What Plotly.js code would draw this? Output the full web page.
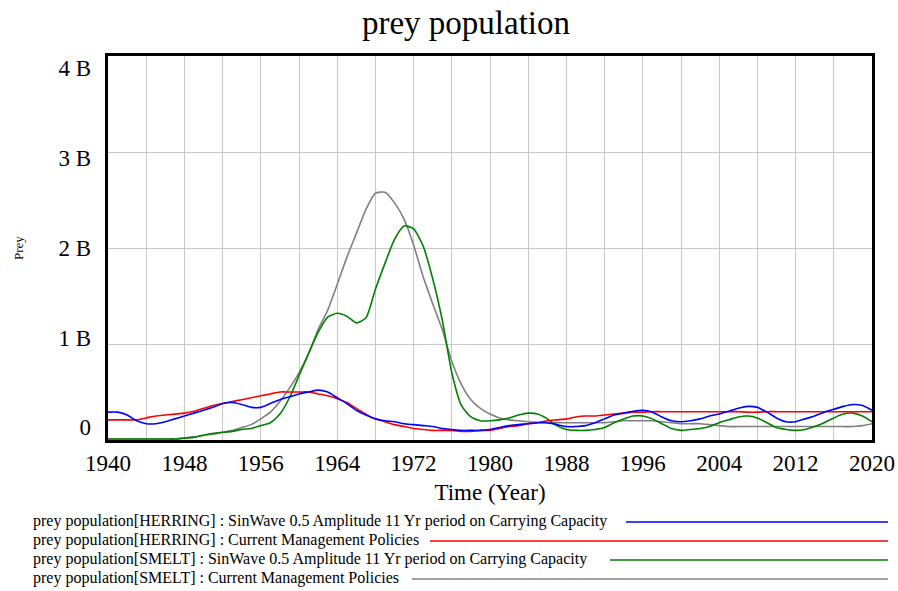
<!DOCTYPE html>
<html>
<head>
<meta charset="utf-8">
<script src="https://cdn.plot.ly/plotly-3.0.1.min.js"></script>
<style>html,body{margin:0;padding:0;background:#fff;}#chart{width:898px;height:591px;}</style>
</head>
<body>
<div id="chart"></div>
<script>
// ---- data (values in billions) ----
const years = [];
for (let y = 1940; y <= 2020; y++) years.push(y);

const herringSin = [0.29,0.29,0.26,0.20,0.17,0.17,0.19,0.22,0.25,0.28,0.31,0.34,0.38,0.39,0.37,0.34,0.34,0.38,0.42,0.45,0.48,0.50,0.52,0.50,0.44,0.38,0.31,0.26,0.22,0.20,0.19,0.17,0.16,0.15,0.14,0.12,0.11,0.10,0.10,0.10,0.11,0.13,0.15,0.16,0.17,0.18,0.18,0.16,0.14,0.14,0.15,0.18,0.22,0.26,0.28,0.30,0.31,0.29,0.24,0.20,0.19,0.20,0.22,0.25,0.27,0.30,0.33,0.35,0.34,0.29,0.23,0.19,0.19,0.22,0.25,0.29,0.32,0.35,0.37,0.36,0.31];
const herringCur = [0.21,0.21,0.21,0.21,0.23,0.25,0.26,0.27,0.28,0.30,0.33,0.36,0.38,0.40,0.42,0.44,0.46,0.48,0.50,0.50,0.50,0.50,0.48,0.46,0.43,0.39,0.33,0.27,0.22,0.19,0.16,0.14,0.12,0.11,0.10,0.10,0.10,0.09,0.09,0.10,0.10,0.12,0.14,0.15,0.17,0.18,0.20,0.21,0.22,0.24,0.25,0.25,0.26,0.27,0.28,0.29,0.29,0.295,0.295,0.295,0.295,0.295,0.295,0.295,0.295,0.295,0.295,0.29,0.29,0.295,0.295,0.295,0.295,0.295,0.295,0.295,0.295,0.295,0.295,0.295,0.295];
const smeltSin = [0.01,0.01,0.01,0.01,0.01,0.01,0.01,0.01,0.02,0.03,0.05,0.07,0.08,0.09,0.11,0.12,0.15,0.18,0.27,0.44,0.67,0.90,1.12,1.28,1.32,1.29,1.22,1.27,1.57,1.84,2.09,2.23,2.20,2.02,1.68,1.25,0.70,0.36,0.24,0.20,0.20,0.21,0.23,0.26,0.28,0.27,0.22,0.15,0.11,0.10,0.10,0.11,0.13,0.18,0.22,0.25,0.25,0.22,0.17,0.12,0.10,0.11,0.12,0.14,0.18,0.21,0.24,0.25,0.23,0.18,0.13,0.11,0.10,0.11,0.14,0.18,0.23,0.27,0.28,0.25,0.19];
const smeltCur = [0.01,0.01,0.01,0.01,0.01,0.01,0.01,0.01,0.02,0.03,0.05,0.06,0.08,0.10,0.13,0.16,0.22,0.29,0.40,0.54,0.70,0.90,1.15,1.35,1.62,1.90,2.15,2.40,2.57,2.58,2.47,2.30,2.03,1.70,1.42,1.15,0.82,0.58,0.42,0.33,0.27,0.23,0.21,0.20,0.19,0.185,0.18,0.18,0.18,0.18,0.18,0.18,0.18,0.19,0.20,0.20,0.20,0.20,0.19,0.18,0.17,0.17,0.17,0.16,0.15,0.14,0.14,0.14,0.14,0.14,0.14,0.14,0.14,0.14,0.14,0.14,0.14,0.14,0.14,0.15,0.17];

const seriesNames = [
  "prey population[HERRING] : SinWave 0.5 Amplitude 11 Yr period on Carrying Capacity",
  "prey population[HERRING] : Current Management Policies",
  "prey population[SMELT] : SinWave 0.5 Amplitude 11 Yr period on Carrying Capacity",
  "prey population[SMELT] : Current Management Policies"
];
const seriesColors = ["#0000ff", "#ff0000", "#008000", "#808080"];

const xTickVals = [];
for (let y = 1940; y <= 2020; y += 4) xTickVals.push(y);
const xTickText = xTickVals.map(v => ((v - 1940) % 8 === 0) ? String(v) : "");
const yTickVals = [0, 1, 2, 3, 4];
const yTickText = ["0", "1 B", "2 B", "3 B", "4 B"];

// ---- geometry helpers ----
const W = 898, H = 591;
const M = {l: 108, r: 26, t: 56, b: 151};
const PW = W - M.l - M.r, PH = H - M.t - M.b;
const px = x => (x - M.l) / PW;
const py = y => (M.t + PH - y) / PH;
const FONT = "Liberation Serif, Times New Roman, serif";

const allSeries = [herringSin, herringCur, smeltSin, smeltCur];
const drawOrder = [3, 2, 1, 0];
const traces = drawOrder.map(i => ({
  type: "scatter", mode: "lines", x: years, y: allSeries[i],
  name: seriesNames[i], line: {color: seriesColors[i], width: 1.6, shape: "spline", smoothing: 0.6},
  showlegend: false
}));
traces.push({type: "scatter", mode: "lines", x: [1940], y: [null], yaxis: "y2", showlegend: false, hoverinfo: "skip"});

const legendY = [521, 540, 559, 578];
const legendLineStart = [626, 430, 610, 412];
const annotations = [];
const shapes = [];
seriesNames.forEach((n, i) => {
  annotations.push({text: n, xref: "paper", yref: "paper", x: px(31), y: py(legendY[i]),
    xanchor: "left", yanchor: "middle", showarrow: false, font: {family: FONT, size: 16, color: "#000"}});
  shapes.push({type: "line", xref: "paper", yref: "paper", x0: px(legendLineStart[i]), x1: px(888),
    y0: py(legendY[i] + 1), y1: py(legendY[i] + 1), line: {color: seriesColors[i], width: 1.5}});
});
annotations.push({text: "Prey", xref: "paper", yref: "paper", x: px(18), y: py(248), textangle: -90,
  xanchor: "center", yanchor: "middle", showarrow: false, font: {family: FONT, size: 13, color: "#000"}});

const layout = {
  width: W, height: H, margin: M,
  paper_bgcolor: "#fff", plot_bgcolor: "#fff",
  font: {family: FONT, color: "#000"},
  showlegend: false,
  title: {text: "prey population", font: {family: FONT, size: 33, color: "#000"},
    xref: "container", yref: "container", x: 466 / W, y: 1 - 22 / H, xanchor: "center", yanchor: "middle"},
  xaxis: {range: [1940, 2020], tickvals: xTickVals, ticktext: xTickText, ticks: "",
    showgrid: true, gridcolor: "#c8c8c8", gridwidth: 1, zeroline: false,
    showline: true, linecolor: "#000", linewidth: 3, mirror: true,
    tickfont: {family: FONT, size: 23, color: "#000"},
    title: {text: "Time (Year)", font: {family: FONT, size: 23, color: "#000"}, standoff: 10}},
  yaxis: {range: [0, 4], tickvals: yTickVals, showticklabels: false, ticks: "",
    showgrid: true, gridcolor: "#c8c8c8", gridwidth: 1, zeroline: false,
    showline: true, linecolor: "#000", linewidth: 3, mirror: true},
  yaxis2: {overlaying: "y", side: "left", range: [-0.1415, 4.137], tickvals: yTickVals, ticktext: yTickText,
    ticks: "", showgrid: false, zeroline: false, showline: false, ticklabelstandoff: 16,
    tickfont: {family: FONT, size: 23, color: "#000"}},
  annotations: annotations,
  shapes: shapes
};

Plotly.newPlot("chart", traces, layout, {staticPlot: true, displayModeBar: false});
</script>
</body>
</html>
